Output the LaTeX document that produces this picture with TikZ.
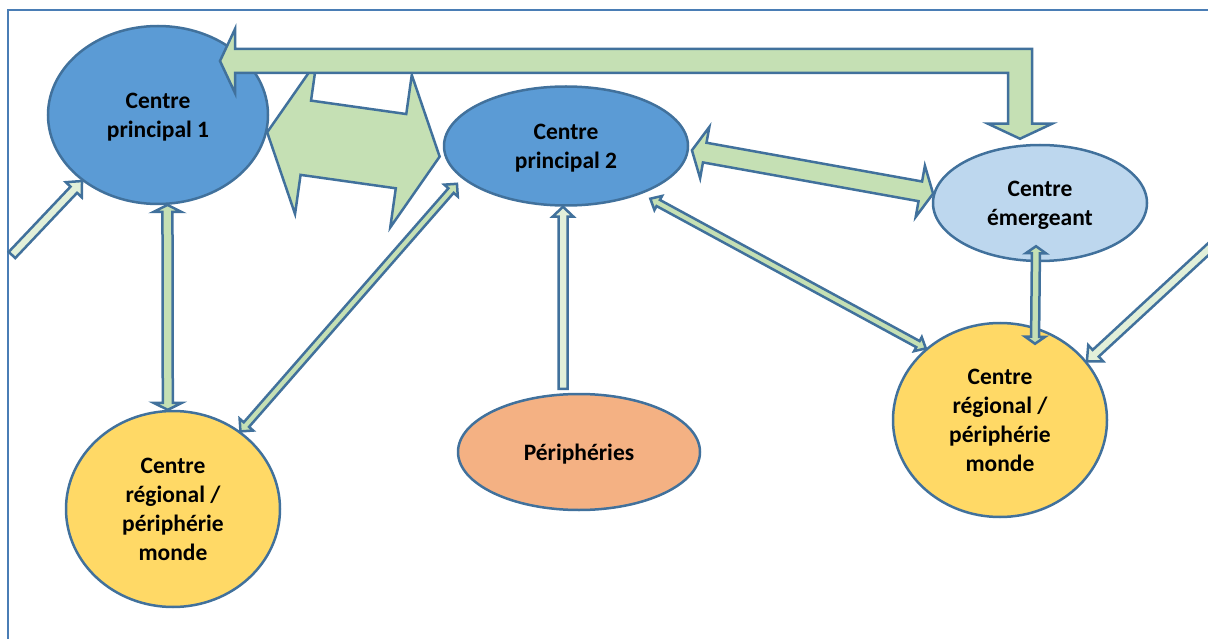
\documentclass[tikz,border=0pt]{standalone}
\usepackage{fontspec}
\setmainfont{Carlito}
\usepackage{tikz}
\usetikzlibrary{calc,shapes.geometric}
\definecolor{EdgeBlue}{HTML}{41719C}
\definecolor{FrameBlue}{HTML}{4A7DB5}
\definecolor{MainBlue}{HTML}{5B9BD5}
\definecolor{LightBlue}{HTML}{BDD7EE}
\definecolor{RegYellow}{HTML}{FFD966}
\definecolor{PeriOrange}{HTML}{F4B183}
\definecolor{ArrowGreen}{HTML}{C5E0B4}
\definecolor{PaleGreen}{HTML}{E2F0D9}

\tikzset{
  pole/.style={ellipse,draw=EdgeBlue,line width=2.5pt,inner sep=0pt,align=center,
    text depth=0pt,font=\bfseries\fontsize{23.5}{29}\selectfont},
  fat/.style={draw=EdgeBlue,line width=2.5pt,fill=ArrowGreen},
  pale/.style={fill=PaleGreen}
}

% block arrow, head at both ends: [style]{from}{to}{half shaft}{half head}{head length}
\newcommand\twohead[6][]{%
  \draw[fat,#1] let \p1=($(#3)-(#2)$), \n1={atan2(\y1,\x1)}, \n2={veclen(\x1,\y1)} in
    [shift={(#2)},rotate=\n1]
    (0,0) -- (#6,#5) -- (#6,#4) -- ({\n2-#6},#4) -- ({\n2-#6},#5) -- ({\n2},0)
    -- ({\n2-#6},-#5) -- ({\n2-#6},-#4) -- (#6,-#4) -- (#6,-#5) -- cycle;}
% block arrow, head at the end only
\newcommand\onehead[6][]{%
  \draw[fat,#1] let \p1=($(#3)-(#2)$), \n1={atan2(\y1,\x1)}, \n2={veclen(\x1,\y1)} in
    [shift={(#2)},rotate=\n1]
    (0,#4) -- ({\n2-#6},#4) -- ({\n2-#6},#5) -- ({\n2},0)
    -- ({\n2-#6},-#5) -- ({\n2-#6},-#4) -- (0,-#4) -- cycle;}

\begin{document}
\begin{tikzpicture}[x=1pt,y=-1pt]
  \useasboundingbox (0,0) rectangle (1208,639);
  \draw[FrameBlue,line width=2pt] (8,660) -- (8,10) -- (1230,10);

  % poles
  \node[pole,fill=MainBlue,minimum width=220pt,minimum height=178pt] (cp1) at (158,115) {Centre\\principal 1};
  \node[pole,fill=MainBlue,minimum width=244pt,minimum height=119pt] (cp2) at (566,146) {Centre\\principal 2};
  \node[pole,fill=LightBlue,minimum width=214pt,minimum height=116pt] (ce) at (1040,203) {Centre\\émergeant};
  \node[pole,fill=PeriOrange,minimum width=242pt,minimum height=116pt] (peri) at (579,452) {Périphéries};
  \node[pole,fill=RegYellow,minimum width=214pt,minimum height=196pt] (crl) at (173,509) {Centre\\régional /\\périphérie\\monde};
  \node[pole,fill=RegYellow,minimum width=214pt,minimum height=194pt] (crr) at (1000,420) {Centre\\régional /\\périphérie\\monde};

  % arrow ends
  \coordinate (in1) at (12,255);
  \coordinate (in2) at (1215,243);
  \coordinate (tl) at ($(cp1)+(62,-54)$);
  \coordinate (tr) at ($(ce.north)+(-20,-5)$);
  \coordinate (p2w) at ($(cp2.185)+(-5,0)$);
  \coordinate (p2sw) at ($(cp2.199)+(-8,3)$);
  \coordinate (p2e) at ($(cp2.-2)+(3,0)$);
  \coordinate (p2se) at ($(cp2.-32)+(8,5)$);
  \coordinate (p2s) at ($(cp2.south)+(-3,0)$);
  \coordinate (pn) at ($(peri.north)+(-16,-4)$);
  \coordinate (ces) at ($(ce.south)+(-4,-16)$);
  \coordinate (crn) at ($(crr.north)+(35,22)$);

  % connectors
  \twohead{cp1.-9}{p2w}{37.5}{77}{39}
  \draw[fat] (tl) -- ($(tl)+(15,-32)$) -- ($(tl)+(15,-12)$) -- ($(tr|-tl)+(12,-12)$)
    -- ($(tr)+(12,-15)$) -- ($(tr)+(32,-15)$) -- (tr) -- ($(tr)+(-32,-15)$)
    -- ($(tr)+(-12,-15)$) -- ($(tr|-tl)+(-12,12)$) -- ($(tl)+(15,12)$)
    -- ($(tl)+(15,32)$) -- cycle;
  \twohead{cp1.-84}{crl.93}{5}{14}{7}
  \twohead{crl.49}{p2sw}{3.5}{9}{9}
  \onehead[pale]{in1}{cp1.221}{4.5}{11}{12}
  \onehead[pale]{pn}{p2s}{4.5}{10.5}{10}
  \twohead{p2e}{ce.175}{10}{26}{13}
  \twohead{p2se}{crr.136}{3.5}{8}{9}
  \twohead{ces}{crn}{4}{10}{7}
  \onehead[pale]{in2}{crr.34}{4.5}{11}{12}
\end{tikzpicture}
\end{document}
